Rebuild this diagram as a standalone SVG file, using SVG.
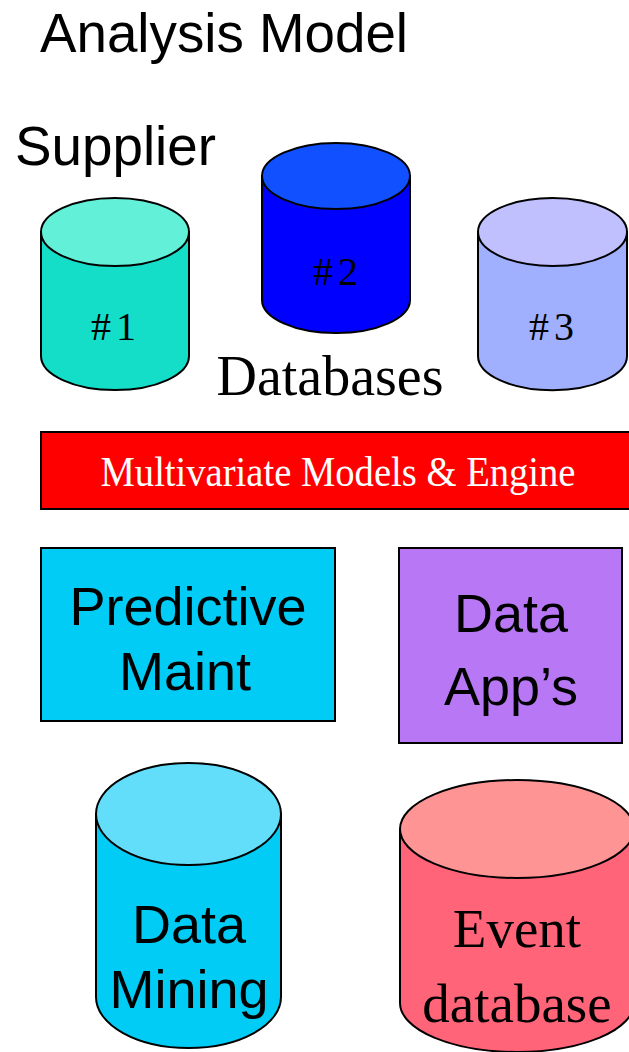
<svg xmlns="http://www.w3.org/2000/svg" width="629" height="1052" viewBox="0 0 629 1052">
<style>
.ln{stroke:#000;stroke-width:2}
.sans{font-family:"Liberation Sans",Arial,sans-serif;fill:#000}
.serif{font-family:"Liberation Serif","Times New Roman",serif;fill:#000}
</style>
<rect width="629" height="1052" fill="#fff"/>
<g id="title"><text class="sans" x="40" y="52" font-size="55" textLength="368" lengthAdjust="spacingAndGlyphs">Analysis Model</text></g>
<g id="supplier"><text class="sans" x="15" y="165" font-size="55" textLength="201" lengthAdjust="spacingAndGlyphs">Supplier</text></g>
<g id="db1">
<path class="ln" fill="#14DEC8" d="M41,232 L41,356 A74,34 0 0 0 189,356 L189,232 Z"/>
<ellipse class="ln" fill="#62F0D8" cx="115" cy="232" rx="74" ry="34"/>
<text class="serif" x="116" y="340" font-size="40" letter-spacing="5" text-anchor="middle">#1</text>
</g>
<g id="db2">
<path class="ln" fill="#0000FF" d="M262,176 L262,300 A74,33 0 0 0 410,300 L410,176 Z"/>
<ellipse class="ln" fill="#1050FF" cx="336" cy="176" rx="74" ry="33"/>
<text class="serif" x="338" y="285" font-size="40" letter-spacing="5" text-anchor="middle">#2</text>
</g>
<g id="db3">
<path class="ln" fill="#A0B0FF" d="M478,232 L478,356 A74,34 0 0 0 627,356 L627,232 Z"/>
<ellipse class="ln" fill="#C0C0FF" cx="552.5" cy="232" rx="74.5" ry="34"/>
<text class="serif" x="554" y="340" font-size="40" letter-spacing="5" text-anchor="middle">#3</text>
</g>
<g id="databases"><text class="serif" x="330" y="395" font-size="56" text-anchor="middle">Databases</text></g>
<g id="engine">
<rect class="ln" fill="#FF0000" x="41" y="432" width="600" height="77"/>
<text x="338" y="486" font-family="Liberation Serif,'Times New Roman',serif" font-size="43" fill="#fff" text-anchor="middle" textLength="475" lengthAdjust="spacingAndGlyphs">Multivariate Models &amp; Engine</text>
</g>
<g id="predictive">
<rect class="ln" fill="#00CCF5" x="41" y="548" width="294" height="173"/>
<text class="sans" x="188" y="625" font-size="54" text-anchor="middle">Predictive</text>
<text class="sans" x="185" y="690" font-size="54" text-anchor="middle">Maint</text>
</g>
<g id="dataapps">
<rect class="ln" fill="#B878F5" x="399" y="548" width="223" height="195"/>
<text class="sans" x="511" y="632" font-size="54" text-anchor="middle">Data</text>
<text class="sans" x="511" y="705" font-size="54" text-anchor="middle">App’s</text>
</g>
<g id="datamining">
<path class="ln" fill="#00CCF5" d="M96,814 L96,997 A92.5,51 0 0 0 281,997 L281,814 Z"/>
<ellipse class="ln" fill="#62DEFA" cx="188.5" cy="814" rx="92.5" ry="51"/>
<text class="sans" x="189" y="943" font-size="54" text-anchor="middle">Data</text>
<text class="sans" x="189" y="1008" font-size="54" text-anchor="middle">Mining</text>
</g>
<g id="eventdb">
<path class="ln" fill="#FF6478" d="M400,829 L400,1003 A117,49 0 0 0 634,1003 L634,829 Z"/>
<ellipse class="ln" fill="#FF9494" cx="517" cy="829" rx="117" ry="49"/>
<text class="serif" x="517" y="947" font-size="55" text-anchor="middle">Event</text>
<text class="serif" x="517" y="1022" font-size="55" text-anchor="middle">database</text>
</g>
<g id="connectors"></g>
</svg>
